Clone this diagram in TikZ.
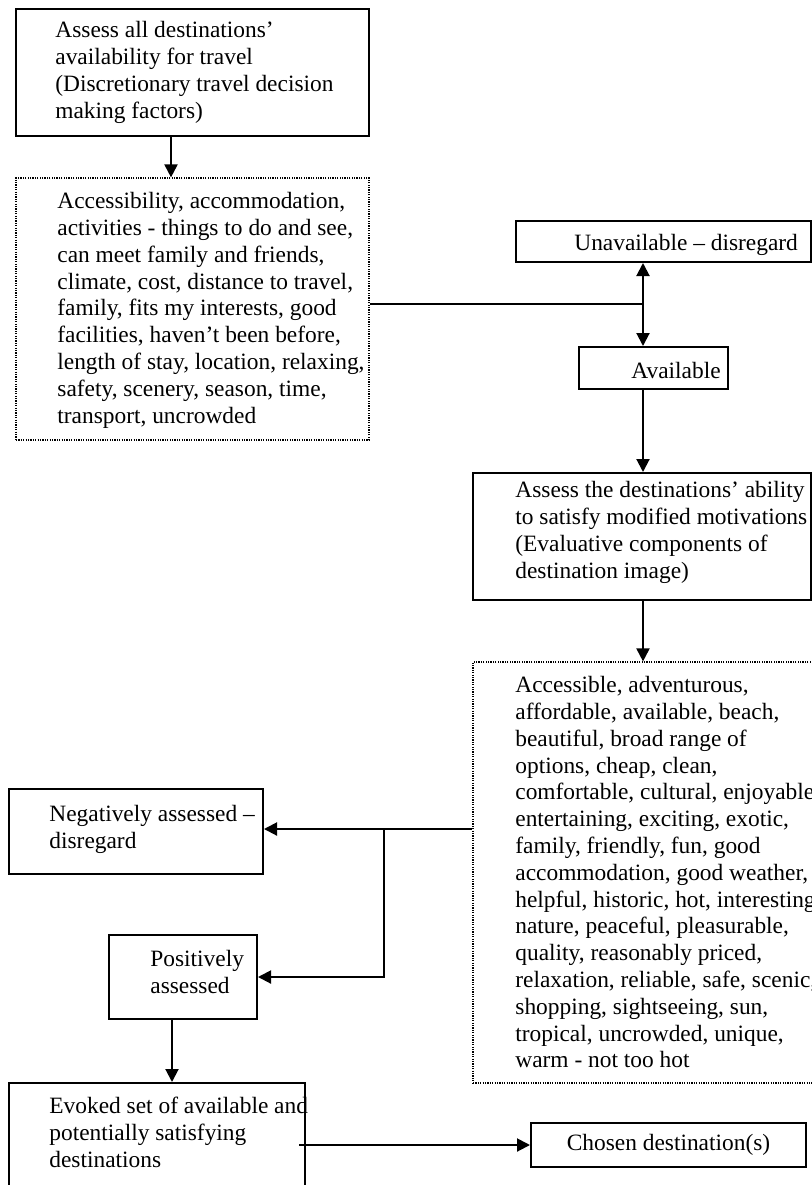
\documentclass[tikz,border=0pt]{standalone}
\usepackage{fontspec}
\setmainfont{Liberation Serif}
\usetikzlibrary{arrows.meta}
\begin{document}
\begin{tikzpicture}[x=0.5pt,y=-0.5pt]
    \tikzstyle{every node}+=[inner sep=0pt, font=\fontsize{11.7}{13.4}\selectfont]
    \tikzstyle{solidbox}=[draw, line width=1pt]
    \tikzstyle{dotbox}=[draw, line width=0.6pt, dash pattern=on 0.6pt off 0.6pt]
    \tikzstyle{txt}=[anchor=north west, align=left]
    \tikzstyle{link}=[line width=1pt]
    \tikzstyle{arr}=[line width=1pt, -{Triangle[length=6.5pt,width=6.5pt]}]
    \useasboundingbox (0,0) rectangle (812,1185);
    \clip (0,0) rectangle (812,1185);
    \node [solidbox, minimum width=176.5pt, minimum height=63.5pt] (assessall) at (192.5,72.5) {};
    \node [txt] (assessalltext) at (55,21) {Assess all destinations’\\availability for travel\\(Discretionary travel decision\\making factors)};
    \node [dotbox, minimum width=176.5pt, minimum height=131pt] (factors) at (192.5,309) {};
    \node [txt] (factorstext) at (57,192) {Accessibility, accommodation,\\activities - things to do and see,\\can meet family and friends,\\climate, cost, distance to travel,\\family, fits my interests, good\\facilities, haven’t been before,\\length of stay, location, relaxing,\\safety, scenery, season, time,\\transport, uncrowded};
    \node [solidbox, minimum width=147.5pt, minimum height=20.5pt] (unavail) at (663.5,241.5) {};
    \node [txt] (unavailtext) at (574,234) {Unavailable – disregard};
    \node [solidbox, minimum width=74.5pt, minimum height=21pt] (avail) at (653.5,368) {};
    \node [txt] (availtext) at (631,362) {Available};
    \node [solidbox, minimum width=169pt, minimum height=63.5pt] (assess) at (642,536.5) {};
    \node [txt] (assesstext) at (515,481) {Assess the destinations’ ability\\to satisfy modified motivations\\(Evaluative components of\\destination image)};
    \node [dotbox, minimum width=170pt, minimum height=210.5pt] (attributes) at (643,872.5) {};
    \node [txt] (attributestext) at (515,676) {Accessible, adventurous,\\affordable, available, beach,\\beautiful, broad range of\\options, cheap, clean,\\comfortable, cultural, enjoyable\\entertaining, exciting, exotic,\\family, friendly, fun, good\\accommodation, good weather,\\helpful, historic, hot, interesting\\nature, peaceful, pleasurable,\\quality, reasonably priced,\\relaxation, reliable, safe, scenic,\\shopping, sightseeing, sun,\\tropical, uncrowded, unique,\\warm - not too hot};
    \node [solidbox, minimum width=127pt, minimum height=42.5pt] (negative) at (136,831.5) {};
    \node [txt] (negativetext) at (49,805) {Negatively assessed –\\disregard};
    \node [solidbox, minimum width=74pt, minimum height=42pt] (positive) at (183,977) {};
    \node [txt] (positivetext) at (150,950) {Positively\\assessed};
    \node [solidbox, minimum width=148pt, minimum height=58.5pt] (evoked) at (157,1141.5) {};
    \node [txt] (evokedtext) at (49,1097) {Evoked set of available and\\potentially satisfying\\destinations};
    \node [solidbox, minimum width=137.5pt, minimum height=22pt] (chosen) at (668.5,1145) {Chosen destination(s)};
    \coordinate (split1) at (643,304);
    \coordinate (split2) at (384,829);
    \draw [arr] ([xshift=-10.75pt]assessall.south) -- ([xshift=-10.75pt]factors.north);
    \draw [link] (factors.east |- split1) -- (split1);
    \draw [arr] (split1) -- (split1 |- unavail.south);
    \draw [arr] (split1) -- (split1 |- avail.north);
    \draw [arr] (split1 |- avail.south) -- (split1 |- assess.north);
    \draw [arr] (split1 |- assess.south) -- (split1 |- attributes.north);
    \draw [link] (attributes.west |- split2) -- (split2);
    \draw [arr] (split2) -- (split2 -| negative.east);
    \draw [arr] (split2) |- (positive.east);
    \draw [arr] ([xshift=-5.5pt]positive.south) -- ([xshift=-5.5pt]positive.south |- evoked.north);
    \draw [arr] ([xshift=-3.5pt]evoked.east |- chosen.west) -- (chosen.west);
\end{tikzpicture}
\end{document}
